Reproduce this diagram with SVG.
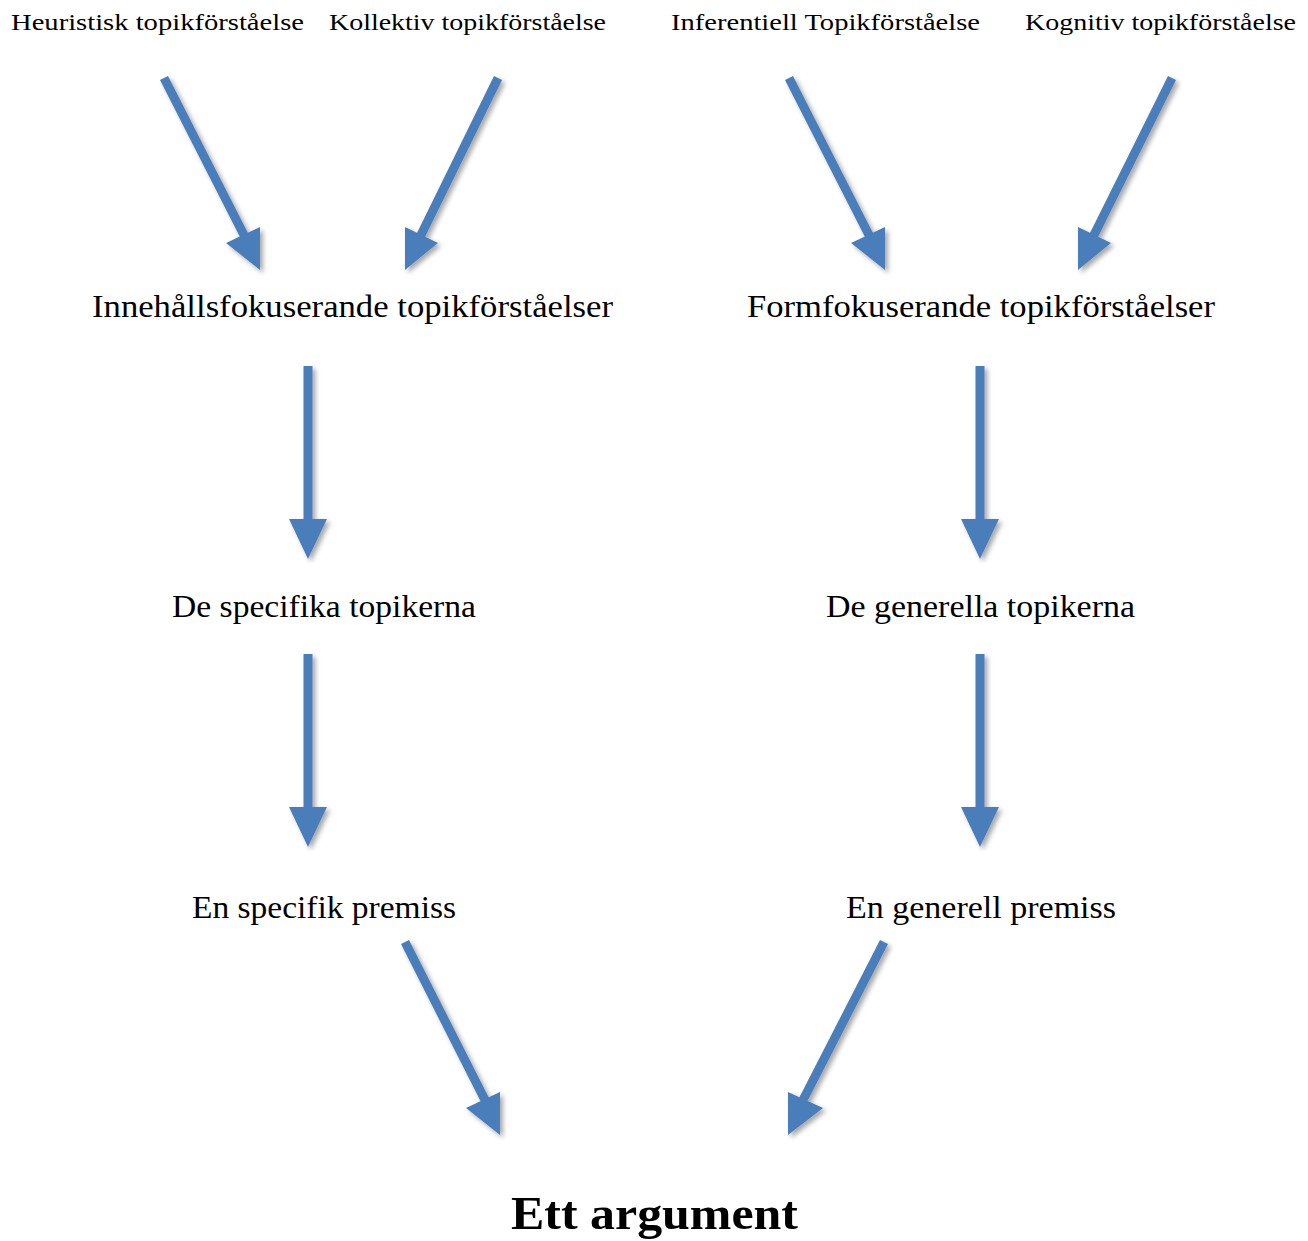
<svg xmlns="http://www.w3.org/2000/svg" width="1308" height="1241" viewBox="0 0 1308 1241">
<style>
text{font-family:"Liberation Serif","DejaVu Serif",serif;fill:#000}
.s{font-size:23px}
.m{font-size:31px}
.b{font-size:47px;font-weight:bold}
.sh{stroke:#4A7EBB;stroke-width:9;fill:none}
.hd{fill:#4A7EBB}
</style>
<defs>
<filter id="shadow" x="-20%" y="-20%" width="140%" height="140%">
<feGaussianBlur in="SourceAlpha" stdDeviation="2.5"/>
<feOffset dx="3" dy="3" result="o"/>
<feComponentTransfer><feFuncA type="linear" slope="0.35"/></feComponentTransfer>
<feMerge><feMergeNode/><feMergeNode in="SourceGraphic"/></feMerge>
</filter>
</defs>
<rect width="1308" height="1241" fill="#fff"/>
<g id="n-heuristisk"><text class="s" x="11" y="30" textLength="293" lengthAdjust="spacingAndGlyphs">Heuristisk topikförståelse</text></g>
<g id="n-kollektiv"><text class="s" x="329" y="30" textLength="277" lengthAdjust="spacingAndGlyphs">Kollektiv topikförståelse</text></g>
<g id="n-inferentiell"><text class="s" x="671" y="30" textLength="309" lengthAdjust="spacingAndGlyphs">Inferentiell Topikförståelse</text></g>
<g id="n-kognitiv"><text class="s" x="1025" y="30" textLength="271" lengthAdjust="spacingAndGlyphs">Kognitiv topikförståelse</text></g>
<g id="n-innehall"><text class="m" x="92" y="317" textLength="521" lengthAdjust="spacingAndGlyphs">Innehållsfokuserande topikförståelser</text></g>
<g id="n-form"><text class="m" x="747" y="317" textLength="468" lengthAdjust="spacingAndGlyphs">Formfokuserande topikförståelser</text></g>
<g id="n-specifika"><text class="m" x="172" y="617" textLength="304" lengthAdjust="spacingAndGlyphs">De specifika topikerna</text></g>
<g id="n-generella"><text class="m" x="826" y="617" textLength="309" lengthAdjust="spacingAndGlyphs">De generella topikerna</text></g>
<g id="n-specifikpremiss"><text class="m" x="192" y="918" textLength="264" lengthAdjust="spacingAndGlyphs">En specifik premiss</text></g>
<g id="n-generellpremiss"><text class="m" x="846" y="918" textLength="270" lengthAdjust="spacingAndGlyphs">En generell premiss</text></g>
<g id="n-argument"><text class="b" x="511" y="1229" textLength="287" lengthAdjust="spacingAndGlyphs">Ett argument</text></g>
<g id="connectors" filter="url(#shadow)">
<line class="sh" x1="164" y1="78" x2="245" y2="237"/>
<polygon class="hd" points="226,243 260,227 260,270"/>
<line class="sh" x1="498" y1="78" x2="420" y2="237"/>
<polygon class="hd" points="405,227 438,243 405,270"/>
<line class="sh" x1="789" y1="78" x2="870" y2="237"/>
<polygon class="hd" points="851,243 885,227 885,270"/>
<line class="sh" x1="1172" y1="78" x2="1093" y2="237"/>
<polygon class="hd" points="1078,227 1111,243 1078,270"/>
<line class="sh" x1="308" y1="366" x2="308" y2="522"/>
<polygon class="hd" points="289,519 327,519 308,559"/>
<line class="sh" x1="980" y1="366" x2="980" y2="522"/>
<polygon class="hd" points="961,519 999,519 980,559"/>
<line class="sh" x1="308" y1="654" x2="308" y2="810"/>
<polygon class="hd" points="289,807 327,807 308,847"/>
<line class="sh" x1="980" y1="654" x2="980" y2="810"/>
<polygon class="hd" points="961,807 999,807 980,847"/>
<line class="sh" x1="405" y1="942" x2="485" y2="1100"/>
<polygon class="hd" points="466,1108 500,1092 500,1135"/>
<line class="sh" x1="884" y1="942" x2="803" y2="1100"/>
<polygon class="hd" points="788,1092 823,1108 788,1135"/>
</g>
</svg>
